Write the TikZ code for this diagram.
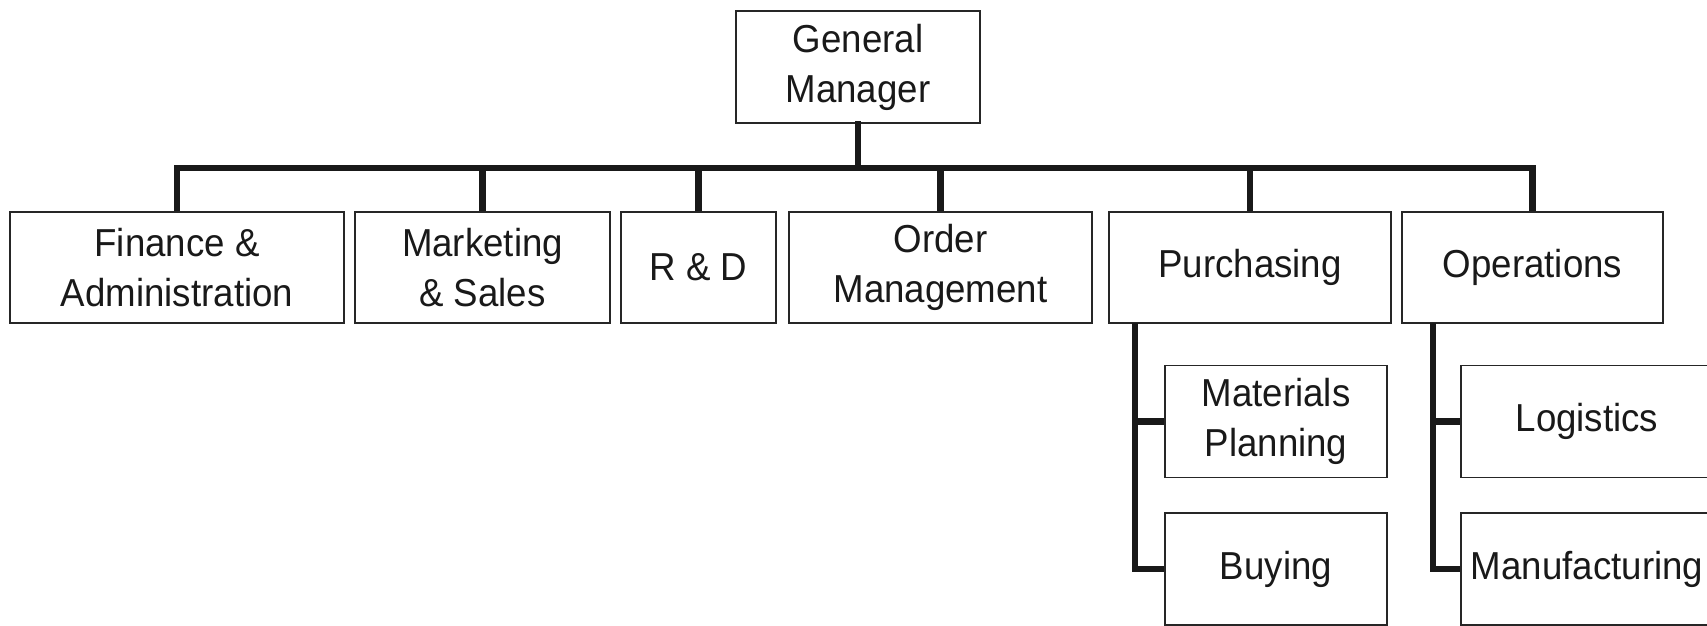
\documentclass[tikz,border=0pt]{standalone}
\usepackage{fontspec}
\setmainfont[FakeStretch=0.94]{Liberation Sans}
\begin{document}
\begin{tikzpicture}[x=0.5pt,y=-0.5pt,
  box/.style={draw=black!85, line width=0.8pt, inner sep=0pt, align=center,
    font=\fontsize{19.5}{25}\selectfont, text=black!90},
  lvltwo/.style={box, minimum height=55.5pt},
  lvlthree/.style={box, minimum height=56pt},
  conn/.style={draw=black!90, line width=3.2pt, line cap=rect}]
\useasboundingbox (0,0) rectangle (1707,626);
% nodes
\node[box, minimum width=122pt, minimum height=56pt] (gm) at (858,67) {General\\Manager};
\node[lvltwo, minimum width=167pt] (fin) at (177,267.5) {Finance \&\\Administration};
\node[lvltwo, minimum width=127.5pt] (mkt) at (482.5,267.5) {Marketing\\\& Sales};
\node[lvltwo, minimum width=77.5pt] (rd) at (698.5,267.5) {R \& D};
\node[lvltwo, minimum width=151.5pt] (om) at (940.5,267.5) {Order\\Management};
\node[lvltwo, minimum width=141pt] (pur) at (1250,267.5) {Purchasing};
\node[lvltwo, minimum width=130.5pt] (ops) at (1532.5,267.5) {Operations};
\node[lvlthree, minimum width=111pt] (mp) at (1276,421.5) {Materials\\Planning};
\node[lvlthree, minimum width=111pt] (buy) at (1276,569) {Buying};
\node[lvlthree, minimum width=126pt] (log) at (1587,421.5) {Logistics};
\node[lvlthree, minimum width=126pt] (man) at (1587,569) {Manufacturing};
% hub
\coordinate (hub) at (858,168);
\draw[conn] (gm.south) -- (hub);
\draw[conn] (fin.north |- hub) -- (ops.north |- hub);
\foreach \n in {fin,mkt,rd,om,pur,ops}
  \draw[conn, line cap=butt] (\n.north |- hub) -- (\n.north);
% sub-department spines
\coordinate (ps) at (1135,323);
\coordinate (os) at (1433,323);
\draw[conn, line cap=butt] (ps) |- (buy.west);
\draw[conn, line cap=butt] (ps |- mp.west) -- (mp.west);
\draw[conn, line cap=butt] (os) |- (man.west);
\draw[conn, line cap=butt] (os |- log.west) -- (log.west);
\end{tikzpicture}
\end{document}
